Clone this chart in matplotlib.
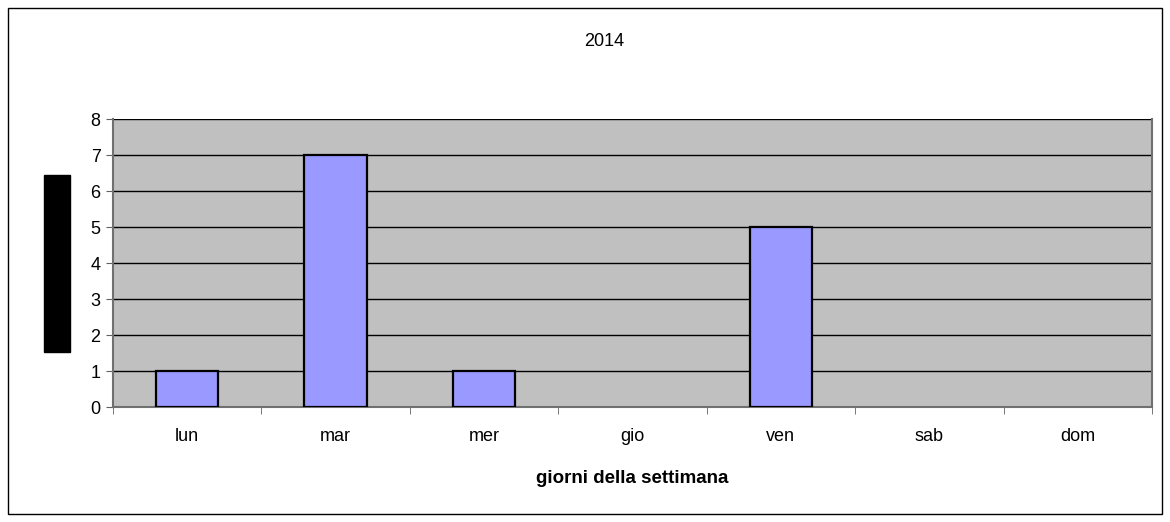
import matplotlib.pyplot as plt
from matplotlib.patches import Rectangle

plt.rcParams['font.family'] = ['Liberation Sans', 'DejaVu Sans']

# dati
giorni = ['lun', 'mar', 'mer', 'gio', 'ven', 'sab', 'dom']
valori = [1, 7, 1, 0, 5, 0, 0]
y_ticks = [0, 1, 2, 3, 4, 5, 6, 7, 8]
titolo = '2014'

W, H = 1170, 522
fig = plt.figure(figsize=(W / 100, H / 100), dpi=100)
ax = fig.add_axes([113 / W, 1 - 407 / H, (1152 - 113) / W, (407 - 119) / H])

ax.set_facecolor('#C0C0C0')
x = list(range(len(giorni)))
barre = ax.bar(x, valori, width=0.42, color='#9999FF', edgecolor='black', linewidth=1.6, zorder=3)
for b, v in zip(barre, valori):
    if v == 0:
        b.set_visible(False)

ax.set_xlim(-0.5, len(giorni) - 0.5)
ax.set_ylim(0, 8)
ax.set_yticks(y_ticks)
ax.yaxis.grid(True, color='black', linewidth=1, zorder=1)
ax.set_axisbelow(True)

ax.set_xticks(x)
ax.set_xticklabels(giorni)
ax.tick_params(axis='x', length=0, pad=15, labelsize=13)
ax.set_xticks([i - 0.5 for i in range(len(giorni) + 1)], minor=True)
ax.tick_params(axis='x', which='minor', length=5, color='#606060', direction='out')
ax.tick_params(axis='y', length=5, color='#606060', labelsize=13, pad=4)

for s in ['left', 'bottom', 'right']:
    ax.spines[s].set_color('#707070')
    ax.spines[s].set_linewidth(1.5)
ax.spines['top'].set_visible(False)

ax.set_xlabel('giorni della settimana', fontsize=13.5, fontweight='bold', labelpad=18)
fig.text(604 / W, 1 - 42 / H, titolo, ha='center', va='center', fontsize=13)

# etichetta asse y coperta (riquadro nero)
fig.patches.append(Rectangle((44 / W, 1 - 352 / H), 26 / W, 177 / H,
                             transform=fig.transFigure, color='black'))
# bordo del grafico
fig.patches.append(Rectangle((8 / W, 8 / H), 1154 / W, 506 / H, transform=fig.transFigure,
                             fill=False, edgecolor='black', linewidth=1))

fig.savefig('out.png', dpi=100)
